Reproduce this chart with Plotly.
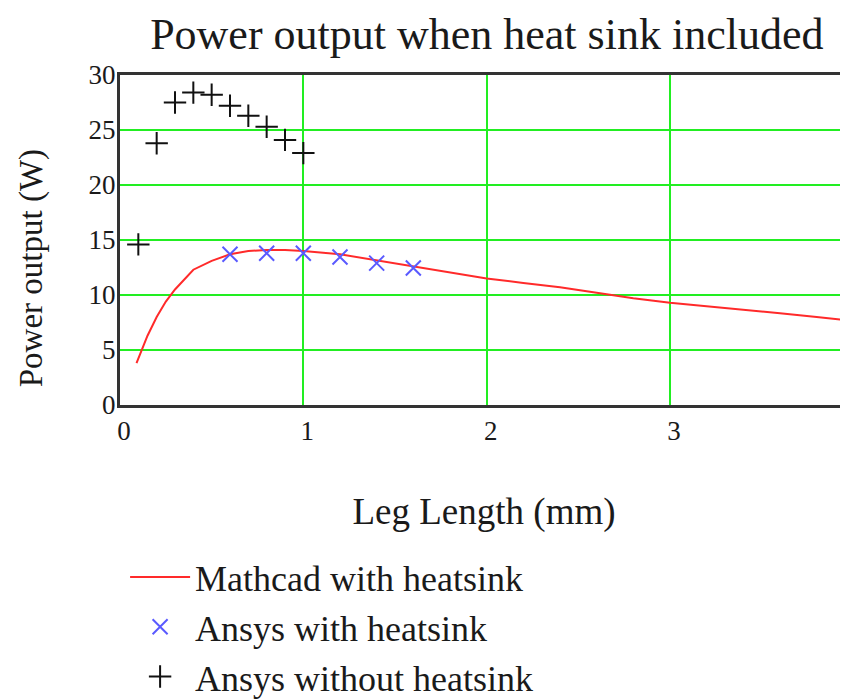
import plotly.graph_objects as go

# Mathcad model with heatsink (red line)
mathcad_len = [0.09, 0.15, 0.2, 0.25, 0.3, 0.4, 0.5, 0.6, 0.7, 0.8, 0.9, 1.0, 1.2, 1.4,
               1.6, 1.8, 2.0, 2.2, 2.4, 2.6, 2.8, 3.0, 3.2, 3.4, 3.6, 3.8, 4.0]
mathcad_power = [3.8, 6.3, 8.0, 9.4, 10.5, 12.3, 13.1, 13.7, 14.0, 14.1, 14.1, 14.0, 13.7, 13.15,
                 12.6, 12.0, 11.5, 11.1, 10.7, 10.2, 9.7, 9.3, 9.0, 8.7, 8.35, 8.0, 7.65]

# Ansys with heatsink (blue x)
ansys_hs_len = [0.6, 0.8, 1.0, 1.2, 1.4, 1.6]
ansys_hs_power = [13.7, 13.8, 13.8, 13.45, 12.9, 12.45]

# Ansys without heatsink (black +)
ansys_nohs_len = [0.1, 0.2, 0.3, 0.4, 0.5, 0.6, 0.7, 0.8, 0.9, 1.0]
ansys_nohs_power = [14.6, 23.8, 27.5, 28.4, 28.2, 27.2, 26.3, 25.3, 24.1, 22.9]

x_ticks = [0, 1, 2, 3]
y_ticks = [0, 5, 10, 15, 20, 25, 30]

serif = "Liberation Serif, Times New Roman, serif"
txt = "#1a1a1a"

fig = go.Figure()
fig.add_trace(go.Scatter(
    x=mathcad_len, y=mathcad_power, mode="lines", name="Mathcad with heatsink",
    line=dict(color="#ff2a2a", width=2),
))
fig.add_trace(go.Scatter(
    x=ansys_hs_len, y=ansys_hs_power, mode="markers", name="Ansys with heatsink",
    marker=dict(symbol="x-thin", size=15, color="#5a5aff", line=dict(color="#5a5aff", width=2)),
))
fig.add_trace(go.Scatter(
    x=ansys_nohs_len, y=ansys_nohs_power, mode="markers", name="Ansys without heatsink",
    marker=dict(symbol="cross-thin", size=16, color="#111111", line=dict(color="#111111", width=2)),
))

# page body has an 8px margin, so the figure is a bit smaller than the window
fig.update_layout(
    width=840, height=692,
    margin=dict(l=112, r=0, t=67, b=295),
    paper_bgcolor="white", plot_bgcolor="white",
    font=dict(family=serif, color=txt),
    title=dict(text="Power output when heat sink included", x=0.570, xanchor="center",
               y=0.963, yanchor="middle", font=dict(size=44, family=serif, color=txt)),
    showlegend=True,
    legend=dict(x=0.007, xanchor="left", yref="container", y=0.221, yanchor="top", itemwidth=60,
                font=dict(size=36, family=serif, color=txt), bgcolor="rgba(0,0,0,0)",
                tracegroupgap=0),
)

# y title sits lower than the middle of the axis in the original
fig.add_annotation(
    text="Power output (W)", textangle=-90, showarrow=False,
    xref="paper", yref="paper", x=-0.122, y=0.415, xanchor="center", yanchor="middle",
    font=dict(size=33, family=serif, color=txt),
)

fig.update_xaxes(
    range=[0, 3.971], tickvals=x_ticks, showgrid=True, gridcolor="#22ee22", gridwidth=2,
    showline=True, linecolor="#333333", linewidth=3, mirror=True, zeroline=False,
    ticks="", tickfont=dict(size=27, family=serif, color=txt), ticklabelshift=4,
    title=dict(text="Leg Length (mm)", font=dict(size=37, family=serif, color=txt), standoff=53),
)
fig.update_yaxes(
    range=[0, 30], tickvals=y_ticks, showgrid=True, gridcolor="#22ee22", gridwidth=2,
    showline=True, linecolor="#333333", linewidth=3, zeroline=False,
    ticks="", tickfont=dict(size=27, family=serif, color=txt), ticklabelstandoff=-4,
)

fig.write_html("out.html")
